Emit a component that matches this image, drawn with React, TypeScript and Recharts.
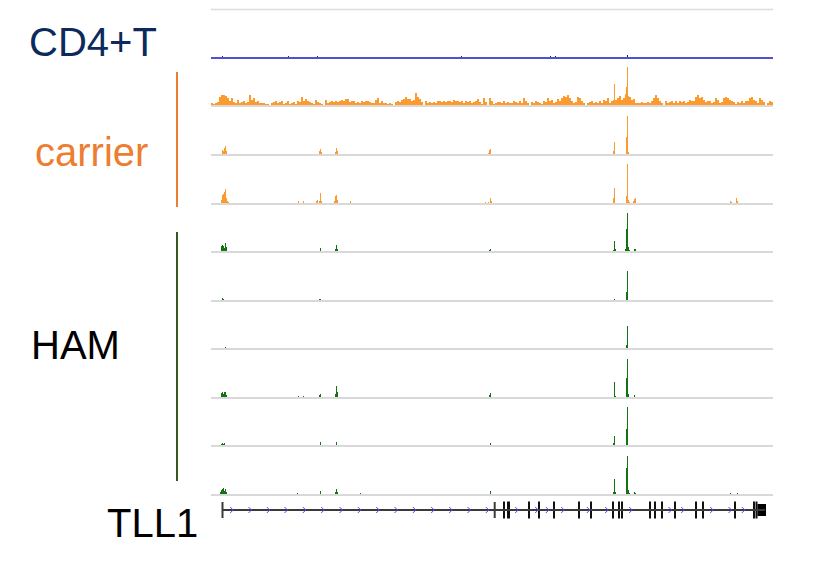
import { BarChart, Bar, XAxis, YAxis, ReferenceLine, ReferenceArea, ComposedChart, Scatter } from 'recharts'

// one bin = one pixel column of the browser window, 562 columns per track
const SPAN = 562

type Peak = [number, number] // [bin, height]

const cd4Peaks: Peak[] = [[11, 2], [77, 2], [106, 2], [250, 2], [339, 2], [344, 2], [416, 3]]

// carrier #1 background signal, one value per two bins
const carrier1Noise = [
  3, 2, 3, 4, 9, 11, 11, 10, 8, 5, 8, 4, 3, 6, 3, 4, 5, 3, 4, 11,
  6, 8, 4, 5, 3, 3, 3, 2, 2, 0, 3, 4, 5, 3, 4, 5, 2, 3, 5, 2, 3, 4,
  2, 5, 4, 9, 5, 7, 5, 4, 3, 2, 6, 4, 3, 2, 1, 6, 3,
  4, 5, 4, 5, 4, 5, 6, 5, 7, 7, 4, 5, 5, 3, 4, 3, 5, 4, 5, 5, 4, 3, 3, 6, 8, 3,
  5, 3, 3, 2, 3, 2, 1, 4, 5, 4, 6, 7, 9, 7, 7, 5, 6, 13, 9, 7,
  4, 1, 5, 3, 4, 3, 4, 3, 5, 5, 4, 5, 4, 5, 5, 4, 6, 5, 5, 4, 5, 3, 5, 4,
  5, 3, 4, 5, 7, 4, 2, 8, 4, 1,
  8, 5, 2, 3, 4, 4, 3, 5, 3, 4, 3, 3, 5, 4, 3, 5, 3, 8,
  5, 3, 1, 4, 3, 5, 4, 3, 2, 5, 4, 8, 5, 6, 3, 4, 7, 5, 8, 10, 9, 11,
  8, 5, 3, 4, 9, 8, 5, 3, 1, 3, 4, 5, 3, 4, 3, 5, 3, 6, 5, 8, 3, 5, 6, 6,
  8, 10, 6, 8, 12, 10, 9, 6, 7, 3, 3, 3, 4, 3, 3, 4, 3, 5, 8,
  11, 8, 5, 3, 1, 5, 3, 4, 5, 3, 5, 3, 5, 4, 5, 3, 4, 6, 5, 5, 9, 11,
  8, 9, 6, 4, 5, 5, 3, 4, 8, 6, 3, 4, 8, 9, 8, 6, 5, 4, 2, 4, 3, 5,
  3, 5, 5, 8, 9, 6, 5, 3, 8, 6, 4, 1, 3, 5, 4,
]
const carrier1Peaks: Peak[] = [[403, 22], [415, 19], [416, 39]]

const carrier2Peaks: Peak[] = [
  [11, 5], [12, 4], [13, 7], [14, 9], [15, 4], [35, 1], [72, 1], [87, 1], [106, 1], [108, 4], [109, 6], [110, 3],
  [117, 1], [124, 3], [125, 7], [126, 4], [159, 1], [181, 1], [255, 1], [277, 2], [278, 5], [279, 6], [298, 1],
  [333, 1], [337, 1], [339, 1], [402, 4], [403, 13], [409, 1], [415, 18], [416, 39], [417, 3], [419, 1], [421, 1], [526, 1],
]

const carrier3Peaks: Peak[] = [
  [7, 1], [10, 4], [11, 9], [12, 10], [13, 12], [14, 15], [15, 6], [16, 3], [17, 2], [34, 1], [69, 1], [72, 1], [78, 1],
  [87, 3], [92, 3], [104, 1], [105, 3], [106, 4], [108, 3], [109, 11], [110, 3], [123, 3], [124, 8], [125, 9], [126, 4],
  [139, 3], [152, 1], [156, 1], [165, 1], [249, 1], [258, 1], [274, 2], [277, 2], [279, 6], [280, 3], [283, 1], [331, 1],
  [333, 1], [338, 1], [362, 1], [397, 1], [402, 6], [403, 16], [410, 1], [415, 8], [416, 40], [417, 4], [418, 2], [422, 3],
  [423, 5], [424, 6], [443, 1], [502, 1], [519, 3], [520, 2], [525, 6], [526, 3], [552, 1], [560, 1],
]

const ham1Peaks: Peak[] = [
  [10, 6], [11, 7], [12, 6], [13, 4], [14, 9], [15, 5], [72, 1], [109, 4], [124, 3], [125, 7], [126, 3], [249, 1],
  [278, 2], [279, 3], [402, 2], [403, 11], [404, 3], [414, 3], [415, 23], [416, 39], [417, 5], [418, 2], [423, 3], [424, 3],
  [519, 1], [526, 1],
]
const ham2Peaks: Peak[] = [[11, 3], [12, 2], [14, 1], [92, 1], [108, 2], [109, 2], [125, 1], [403, 2], [415, 9], [416, 30], [459, 1]]
const ham3Peaks: Peak[] = [[14, 2], [403, 1], [415, 4], [416, 23]]
const ham4Peaks: Peak[] = [
  [3, 1], [10, 5], [11, 6], [12, 4], [13, 6], [14, 6], [15, 3], [19, 1], [72, 1], [87, 2], [92, 2], [106, 1], [107, 1],
  [108, 3], [109, 4], [124, 4], [125, 12], [126, 6], [139, 1], [148, 1], [160, 1], [173, 1], [194, 1], [278, 3], [279, 5],
  [337, 1], [403, 16], [404, 2], [415, 20], [416, 39], [417, 4], [423, 3], [519, 1], [526, 1],
]
const ham5Peaks: Peak[] = [
  [10, 2], [11, 3], [12, 2], [13, 3], [87, 1], [92, 1], [109, 4], [125, 4], [279, 3], [337, 1], [402, 3], [403, 10],
  [415, 17], [416, 39], [424, 1], [526, 1],
]
const ham6Peaks: Peak[] = [
  [1, 1], [3, 1], [5, 1], [9, 3], [10, 5], [11, 6], [12, 7], [13, 4], [14, 6], [15, 3], [20, 1], [22, 1], [29, 1], [31, 1],
  [64, 1], [77, 1], [86, 2], [92, 1], [99, 1], [106, 1], [109, 4], [117, 1], [124, 3], [125, 6], [126, 3], [127, 1],
  [139, 1], [140, 1], [149, 2], [150, 1], [160, 1], [173, 1], [194, 1], [279, 4], [280, 1], [287, 1], [317, 1], [320, 1],
  [332, 1], [338, 1], [356, 1], [376, 1], [401, 1], [402, 3], [403, 16], [404, 3], [412, 1], [415, 27], [416, 39],
  [417, 5], [418, 2], [423, 3], [424, 2], [463, 1], [477, 1], [500, 1], [516, 1], [517, 1], [518, 1], [519, 2],
  [526, 2], [537, 1], [540, 1], [547, 1],
]

// TLL1 gene model (bins)
const geneSpan: [number, number] = [11, 554]
const geneEnds = [11.5, 283.7]
const exons: [number, number][] = [
  [292, 294], [296, 299], [317, 319], [327, 329], [342, 344], [367, 369], [379, 381], [401, 403], [407, 409],
  [410, 412], [438, 440], [443, 445], [450, 452], [463, 465], [484, 486], [491, 493], [523, 525], [542, 544], [544.5, 546.5],
]
const utr: [number, number] = [546.5, 555]
const strandMarks = [
  20.7, 39, 57.3, 75, 93.3, 111.7, 130, 148.3, 166.7, 185, 203.3, 221.7, 239.7, 258, 276.3, 305.7, 325.7,
  336.3, 351.7, 377.3, 395.7, 419.7, 459, 471.7, 500.7, 519, 532.3,
]

const font = '"Liberation Sans", Arial, sans-serif'

function buildRows(peaks: Peak[], noise: number[] = []) {
  const rows = []
  for (let i = 0; i < SPAN; i++) {
    rows.push({ i, v: noise[Math.floor(i / 2)] ?? 0 })
  }
  peaks.forEach(([b, h]) => {
    rows[b].v = Math.max(rows[b].v, h)
  })
  return rows
}

function Track({ peaks, noise, top, color, base = '#d9d9d9' }: { peaks: Peak[]; noise?: number[]; top: number; color: string; base?: string }) {
  return (
    <div style={{ position: 'absolute', left: 211, top }}>
      <BarChart width={SPAN} height={48} data={buildRows(peaks, noise)} margin={{ top: 0, right: 0, bottom: 2, left: 0 }} barCategoryGap={0} barGap={0}>
        <XAxis dataKey="i" hide />
        <YAxis hide domain={[0, 46]} allowDataOverflow />
        <ReferenceLine y={0} stroke={base} strokeWidth={2} />
        <Bar dataKey="v" fill={color} isAnimationActive={false} />
      </BarChart>
    </div>
  )
}

function Chevron(props: any) {
  const { cx, cy } = props
  return <path d={`M${cx - 1.5},${cy - 3}L${cx + 1.5},${cy}L${cx - 1.5},${cy + 3}`} fill="none" stroke="#4a4aff" strokeWidth={1} />
}

const ORANGE = '#fd9a2e'
const GREEN = '#137313'
const baselines = [106, 155, 204, 252, 301, 349, 398, 446, 495]

export default function App() {
  const tracks = [
    { peaks: carrier1Peaks, noise: carrier1Noise, color: ORANGE },
    { peaks: carrier2Peaks, color: ORANGE },
    { peaks: carrier3Peaks, color: ORANGE },
    { peaks: ham1Peaks, color: GREEN },
    { peaks: ham2Peaks, color: GREEN },
    { peaks: ham3Peaks, color: GREEN },
    { peaks: ham4Peaks, color: GREEN },
    { peaks: ham5Peaks, color: GREEN },
    { peaks: ham6Peaks, color: GREEN },
  ]
  return (
    <div style={{ position: 'absolute', left: 0, top: 0, width: 830, height: 578, background: '#fff', fontFamily: font }}>
      <svg width={830} height={578} style={{ position: 'absolute', left: 0, top: 0 }}>
        <line x1={211} x2={773} y1={9.5} y2={9.5} stroke="#dcdcdc" strokeWidth={1.5} />
        <line x1={177} x2={177} y1={72} y2={207} stroke="#ed7d31" strokeWidth={2} />
        <line x1={177} x2={177} y1={232} y2={481} stroke="#385723" strokeWidth={2} />
        <text x={29} y={56} fontSize={40} fill="#0c2a5b" fontFamily={font}>CD4+T</text>
        <text x={35} y={166} fontSize={40} fill="#ed7d31" fontFamily={font}>carrier</text>
        <text x={31} y={359} fontSize={40} fill="#000" fontFamily={font}>HAM</text>
        <text x={107} y={537} fontSize={40} fill="#000" fontFamily={font}>TLL1</text>
      </svg>

      <Track peaks={cd4Peaks} top={58 - 46} color="#1c1c7a" base="#5050d0" />
      {tracks.map((t, k) => (
        <Track key={k} peaks={t.peaks} noise={t.noise} top={baselines[k] - 46} color={t.color} />
      ))}

      <div style={{ position: 'absolute', left: 211, top: 495 }}>
        <ComposedChart width={SPAN} height={30} data={strandMarks.map((x) => ({ x, y: 0 }))} margin={{ top: 0, right: 0, bottom: 0, left: 0 }}>
          <XAxis type="number" dataKey="x" domain={[0, SPAN]} hide />
          <YAxis type="number" dataKey="y" domain={[-15, 15]} hide />
          <ReferenceLine segment={[{ x: geneSpan[0], y: 0 }, { x: geneSpan[1], y: 0 }]} stroke="#3a3a3a" strokeWidth={2} />
          {geneEnds.map((x, k) => (
            <ReferenceArea key={'e' + k} x1={x - 1} x2={x + 1} y1={-8} y2={8} fill="#3a3a3a" fillOpacity={1} stroke="none" />
          ))}
          {exons.map(([a, b], k) => (
            <ReferenceArea key={'x' + k} x1={a} x2={b} y1={-8.5} y2={8.5} fill="#111" fillOpacity={1} stroke="none" />
          ))}
          <ReferenceArea x1={utr[0]} x2={utr[1]} y1={-6} y2={6} fill="#000" fillOpacity={1} stroke="none" />
          <Scatter dataKey="y" shape={Chevron} isAnimationActive={false} />
        </ComposedChart>
      </div>
    </div>
  )
}
